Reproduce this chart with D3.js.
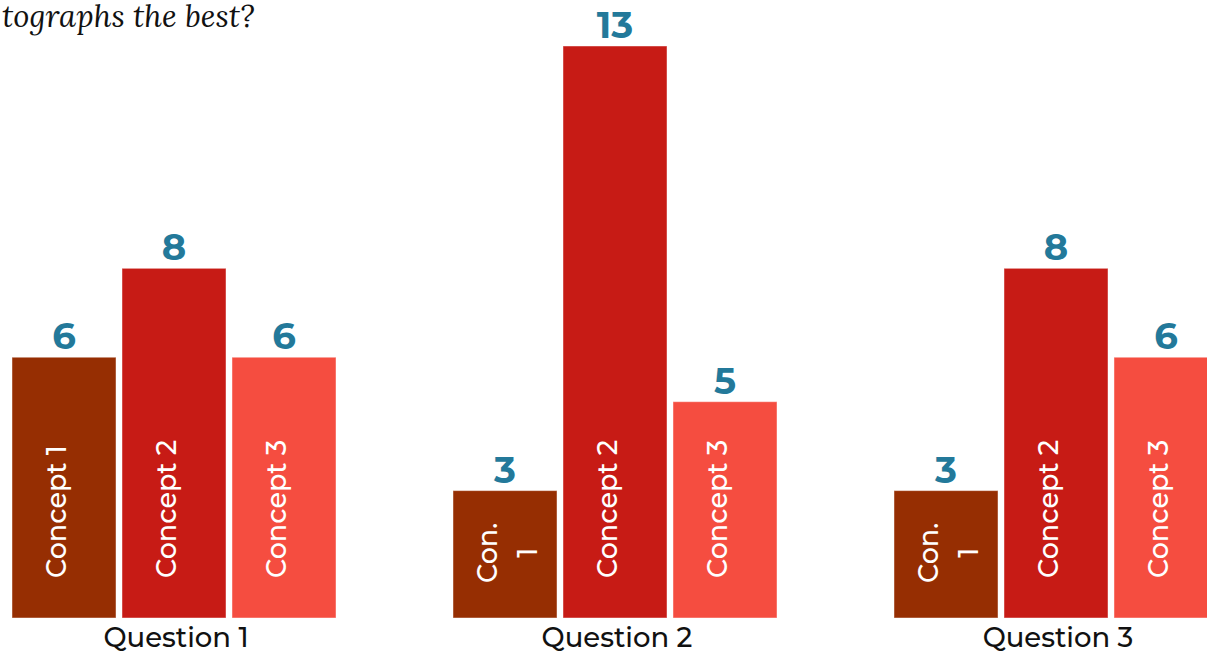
<!DOCTYPE html>
<html>
<head>
<meta charset="utf-8">
<script src="https://cdn.jsdelivr.net/npm/d3@7"></script>
<style>
  html, body { margin: 0; padding: 0; background: #fff; overflow: hidden; }
  svg { display: block; }
</style>
</head>
<body>
<svg id="chart" width="1207" height="655"></svg>
<script>
// Survey results: votes per concept for each question
const questions = ["Question 1", "Question 2", "Question 3"];
const concepts = ["Concept 1", "Concept 2", "Concept 3"];
const shortConcepts = ["Con. 1", "Con. 2", "Con. 3"];
const q1Votes = [6, 8, 6];
const q2Votes = [3, 13, 5];
const q3Votes = [3, 8, 6];
const titleText = "tographs the best?";

const votes = [q1Votes, q2Votes, q3Votes];
const colors = ["#962e02", "#c71b15", "#f54d40"];
const labelColor = "#23799a";
const sansFont = "Montserrat, 'DejaVu Sans', sans-serif";

const svg = d3.select("#chart");

const x0 = d3.scaleBand()
  .domain(questions)
  .range([12, 1218])
  .paddingInner(1 - 324 / 441)
  .paddingOuter(0);

const x1 = d3.scaleBand()
  .domain(concepts)
  .range([0, x0.bandwidth()])
  .paddingInner(0.0545)
  .paddingOuter(0);

const y = d3.scaleLinear().domain([0, 13]).range([624, 46]);
const barBottom = 618;

const color = d3.scaleOrdinal().domain(concepts).range(colors);

// Title (runs off the left edge)
svg.append("text")
  .attr("x", 2)
  .attr("y", 27)
  .attr("font-family", "Lora, 'DejaVu Serif', serif")
  .attr("font-style", "italic")
  .attr("font-size", 31)
  .attr("fill", "#111")
  .text(titleText);

const groups = svg.selectAll("g.group")
  .data(questions.map((q, i) => ({ q, values: votes[i] })))
  .join("g")
  .attr("class", "group")
  .attr("transform", d => `translate(${x0(d.q)},0)`);

const bars = groups.selectAll("g.bar")
  .data(d => d.values.map((v, j) => ({ concept: concepts[j], short: shortConcepts[j], v })))
  .join("g")
  .attr("class", "bar");

bars.append("rect")
  .attr("x", d => x1(d.concept))
  .attr("y", d => y(d.v))
  .attr("width", x1.bandwidth())
  .attr("height", d => barBottom - y(d.v))
  .attr("fill", d => color(d.concept))
  .attr("stroke", "rgba(255,255,255,0.45)")
  .attr("stroke-width", 1);

// Value labels above bars
bars.append("text")
  .attr("x", d => x1(d.concept) + x1.bandwidth() / 2)
  .attr("y", d => y(d.v) - 8)
  .attr("text-anchor", "middle")
  .attr("font-family", sansFont)
  .attr("font-weight", 700)
  .attr("font-size", 37)
  .attr("fill", labelColor)
  .text(d => d.v);

// Rotated concept labels inside bars
const labelFont = 27;
const labelPad = 40;
bars.each(function (d) {
  const g = d3.select(this);
  const cx = x1(d.concept) + x1.bandwidth() / 2;
  const h = barBottom - y(d.v);
  if (h > 170) {
    g.append("text")
      .attr("transform", `translate(${cx + 2},${barBottom - labelPad}) rotate(-90)`)
      .attr("font-family", sansFont)
      .attr("font-weight", 500)
      .attr("font-size", labelFont)
      .attr("fill", "#fff")
      .text(d.concept);
  } else {
    const lines = d.short.split(" ");
    const t = g.append("text")
      .attr("font-family", sansFont)
      .attr("font-weight", 500)
      .attr("font-size", labelFont)
      .attr("fill", "#fff")
      .attr("text-anchor", "middle");
    const lineH = 40;
    // measure widest line to centre the wrapped block
    const probe = svg.append("text").attr("font-family", sansFont)
      .attr("font-weight", 500).attr("font-size", labelFont);
    const maxW = d3.max(lines, s => { probe.text(s); return probe.node().getComputedTextLength(); });
    probe.remove();
    const midY = barBottom - 35 - maxW / 2;
    const firstX = cx - (lines.length - 1) * lineH / 2 + 12;
    t.attr("transform", `translate(${firstX},${midY}) rotate(-90)`);
    lines.forEach((s, k) => {
      t.append("tspan").attr("x", 0).attr("y", k * lineH).text(s);
    });
  }
});

// Group labels
groups.append("text")
  .attr("x", x0.bandwidth() / 2 + 2)
  .attr("y", 647)
  .attr("text-anchor", "middle")
  .attr("font-family", sansFont)
  .attr("font-weight", 500)
  .attr("font-size", 27.5)
  .attr("fill", "#111")
  .text(d => d.q);
</script>
</body>
</html>
